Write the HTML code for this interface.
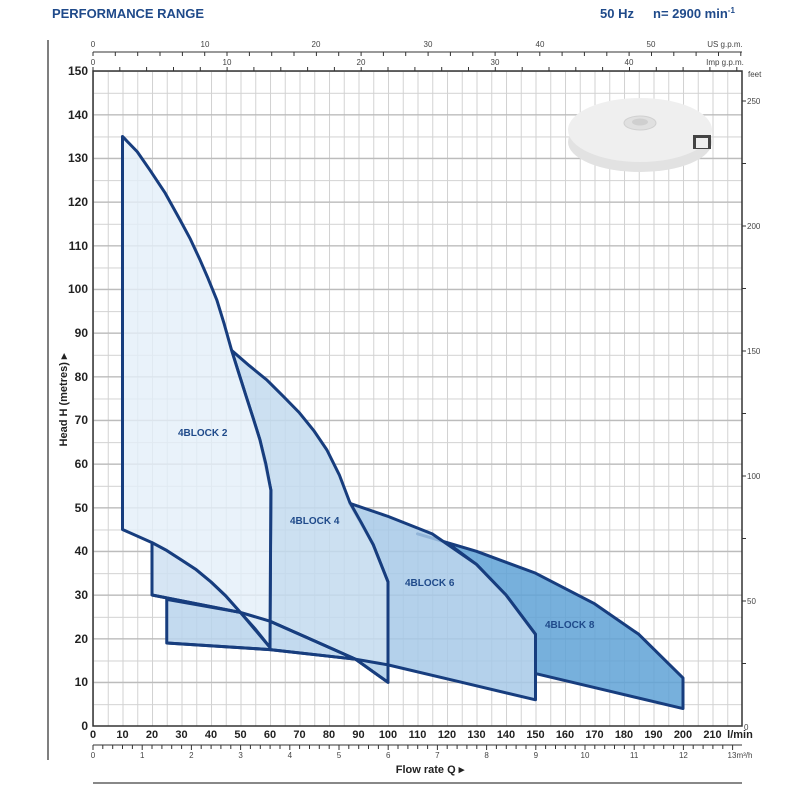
<!DOCTYPE html>
<html><head><style>
html,body{margin:0;padding:0;background:#fff;}
svg{display:block;font-family:"Liberation Sans",sans-serif;}
</style></head><body>
<svg width="800" height="800" viewBox="0 0 800 800" xmlns="http://www.w3.org/2000/svg">
<defs>
<pattern id="g" x="93" y="726" width="14.75" height="21.835" patternUnits="userSpaceOnUse">
<path d="M0.5 0V21.835M0 0.5H14.75" stroke="#d2d2d2" stroke-width="1" fill="none"/>
</pattern>
</defs>
<text x="52" y="18" font-size="13" font-weight="bold" fill="#1f4a8a" textLength="152">PERFORMANCE RANGE</text>
<text x="600" y="18" font-size="13" font-weight="bold" fill="#1f4a8a">50 Hz</text>
<text x="653" y="18" font-size="13" font-weight="bold" fill="#1f4a8a">n= 2900 min<tspan font-size="8" dy="-5">-1</tspan></text>
<line x1="48" y1="40" x2="48" y2="760" stroke="#555" stroke-width="1.5"/>
<rect x="93" y="71" width="649" height="655" fill="url(#g)"/>
<g stroke="#b4b4b4" stroke-width="1">
<line x1="93" y1="682.3" x2="742" y2="682.3"/><line x1="93" y1="638.7" x2="742" y2="638.7"/><line x1="93" y1="595" x2="742" y2="595"/><line x1="93" y1="551.3" x2="742" y2="551.3"/><line x1="93" y1="507.7" x2="742" y2="507.7"/><line x1="93" y1="464" x2="742" y2="464"/><line x1="93" y1="420.3" x2="742" y2="420.3"/><line x1="93" y1="376.7" x2="742" y2="376.7"/><line x1="93" y1="333" x2="742" y2="333"/><line x1="93" y1="289.3" x2="742" y2="289.3"/><line x1="93" y1="245.7" x2="742" y2="245.7"/><line x1="93" y1="202" x2="742" y2="202"/><line x1="93" y1="158.3" x2="742" y2="158.3"/><line x1="93" y1="114.7" x2="742" y2="114.7"/>
</g>
<rect x="93" y="71" width="649" height="655" fill="none" stroke="#333" stroke-width="1.5"/>
<!-- impeller -->
<g>
<ellipse cx="640" cy="142" rx="72" ry="30" fill="#e2e2e2"/>
<ellipse cx="640" cy="130" rx="72" ry="32" fill="#efefef"/>
<ellipse cx="640" cy="123" rx="16" ry="7" fill="#e0e0e0" stroke="#d0d0d0"/>
<ellipse cx="640" cy="122" rx="8" ry="3.5" fill="#cfcfcf"/>
<rect x="693" y="135" width="18" height="14" fill="#444"/>
<rect x="696" y="138" width="12" height="10" fill="#eee"/>
</g>
<!-- regions -->
<g transform="translate(93,726) scale(2.95,-4.367)" stroke="#173d7e" stroke-width="3" stroke-linejoin="round" fill-opacity="0.85">
<polygon vector-effect="non-scaling-stroke" fill="#5fa2d6" points="110,44 130,40 150,35 170,28 185,21 200,11 200,4 175,8 150,12 150,21 140,30 130,37 120,42"/>
<polygon vector-effect="non-scaling-stroke" fill="#a7c9e7" points="87,51 100,48 115,44 130,37 140,30 150,21 150,6 125,10 100,14 100,33 95,41.5"/>
<polygon vector-effect="non-scaling-stroke" fill="#c3daef" points="47,86 53,82.5 59,79.2 64.5,75.5 70,71.7 75,67.5 79.3,63.2 83.5,57.5 87,51.3 91,46.5 95,41.5 100,33 100,10 89,15.3 60,24 60.3,54 56.6,65.5 52,75.3"/>
<polygon vector-effect="non-scaling-stroke" fill="#b9d4ec" points="25,29 25,19 60,17.5 89,15.3 100,14 100,10 89,15.3 60,24 50,26 25,29"/>
<polygon vector-effect="non-scaling-stroke" fill="#cfe1f2" points="20,42 20,30 50,26 60,18 55,22.2 50,26 45,29.8 40,33 35,35.8 30,38 25,40.2"/>
<polygon vector-effect="non-scaling-stroke" fill="#e4eff9" fill-opacity="0.8" points="10,45 10,135 15,131.5 19.3,127.3 24.5,122 29.5,115.9 33,111.5 36.3,106.7 39,102.5 42,97.5 44.5,92 47,86 49.5,80.6 52,75.3 54.3,70.5 56.6,65.5 58.6,60 60.3,54 60,18 55,22.2 50,26 45,29.8 40,33 35,35.8 30,38 25,40.2 20,42"/>
<polyline vector-effect="non-scaling-stroke" fill="none" points="20,30 50,26 60,24 89,15.3 100,10"/>
<polyline vector-effect="non-scaling-stroke" fill="none" points="25,19 60,17.5 89,15.3"/>
</g>
<g font-size="10" font-weight="bold" fill="#1f4a8a">
<text x="178" y="436">4BLOCK 2</text><text x="290" y="524">4BLOCK 4</text><text x="405" y="586">4BLOCK 6</text><text x="545" y="628">4BLOCK 8</text>
</g>
<!-- left y labels -->
<g font-size="12" font-weight="bold" fill="#222" text-anchor="end">
<text x="88" y="730">0</text><text x="88" y="686">10</text><text x="88" y="643">20</text><text x="88" y="599">30</text><text x="88" y="555">40</text><text x="88" y="512">50</text><text x="88" y="468">60</text><text x="88" y="424">70</text><text x="88" y="381">80</text><text x="88" y="337">90</text><text x="88" y="293">100</text><text x="88" y="250">110</text><text x="88" y="206">120</text><text x="88" y="162">130</text><text x="88" y="119">140</text><text x="88" y="75">150</text>
</g>
<text transform="translate(67,400) rotate(-90)" font-size="11" font-weight="bold" fill="#222" text-anchor="middle">Head H  (metres) ▸</text>
<!-- right feet -->
<g stroke="#333" stroke-width="1">
<line x1="742" y1="101" x2="746" y2="101"/><line x1="742" y1="163.5" x2="746" y2="163.5"/><line x1="742" y1="226" x2="746" y2="226"/><line x1="742" y1="288.5" x2="746" y2="288.5"/><line x1="742" y1="351" x2="746" y2="351"/><line x1="742" y1="413.5" x2="746" y2="413.5"/><line x1="742" y1="476" x2="746" y2="476"/><line x1="742" y1="538.5" x2="746" y2="538.5"/><line x1="742" y1="601" x2="746" y2="601"/><line x1="742" y1="663.5" x2="746" y2="663.5"/>
</g>
<g font-size="8" fill="#444">
<text x="747" y="104">250</text><text x="747" y="229">200</text><text x="747" y="354">150</text><text x="747" y="479">100</text><text x="747" y="604">50</text><text x="744" y="730">0</text><text x="748" y="77">feet</text>
</g>
<!-- top axes -->
<line x1="93" y1="52" x2="742" y2="52" stroke="#333" stroke-width="1"/>
<g stroke="#333" stroke-width="1">
<path d="M93 52v4M115.3 52v4M137.7 52v4M160 52v4M182.4 52v4M204.7 52v4M227 52v4M249.4 52v4M271.7 52v4M294 52v4M316.4 52v4M338.7 52v4M361.1 52v4M383.4 52v4M405.7 52v4M428.1 52v4M450.4 52v4M472.8 52v4M495.1 52v4M517.4 52v4M539.8 52v4M562.1 52v4M584.4 52v4M606.8 52v4M629.1 52v4M651.5 52v4M673.8 52v4M696.1 52v4M718.5 52v4M740.8 52v4"/>
<path d="M93 71v-4M119.8 71v-4M146.6 71v-4M173.5 71v-4M200.3 71v-4M227.1 71v-4M253.9 71v-4M280.8 71v-4M307.6 71v-4M334.4 71v-4M361.2 71v-4M388 71v-4M414.9 71v-4M441.7 71v-4M468.5 71v-4M495.3 71v-4M522.2 71v-4M549 71v-4M575.8 71v-4M602.6 71v-4M629.5 71v-4M656.3 71v-4M683.1 71v-4M709.9 71v-4M736.8 71v-4"/>
</g>
<g font-size="8" fill="#444" text-anchor="middle">
<text x="93" y="47">0</text><text x="205" y="47">10</text><text x="316" y="47">20</text><text x="428" y="47">30</text><text x="540" y="47">40</text><text x="651" y="47">50</text><text x="725" y="47">US g.p.m.</text>
<text x="93" y="65">0</text><text x="227" y="65">10</text><text x="361" y="65">20</text><text x="495" y="65">30</text><text x="629" y="65">40</text><text x="725" y="65">Imp g.p.m.</text>
</g>
<!-- bottom axis labels -->
<g font-size="11" font-weight="bold" fill="#222" text-anchor="middle">
<text x="93" y="738">0</text><text x="122.5" y="738">10</text><text x="152" y="738">20</text><text x="181.5" y="738">30</text><text x="211" y="738">40</text><text x="240.5" y="738">50</text><text x="270" y="738">60</text><text x="299.5" y="738">70</text><text x="329" y="738">80</text><text x="358.5" y="738">90</text><text x="388" y="738">100</text><text x="417.5" y="738">110</text><text x="447" y="738">120</text><text x="476.5" y="738">130</text><text x="506" y="738">140</text><text x="535.5" y="738">150</text><text x="565" y="738">160</text><text x="594.5" y="738">170</text><text x="624" y="738">180</text><text x="653.5" y="738">190</text><text x="683" y="738">200</text><text x="712.5" y="738">210</text><text x="740" y="738">l/min</text>
</g>
<line x1="93" y1="745" x2="742" y2="745" stroke="#333" stroke-width="1"/>
<g stroke="#333" stroke-width="1">
<path d="M93 745v5M102.8 745v4M112.7 745v4M122.5 745v4M132.4 745v4M142.2 745v5M152 745v4M161.9 745v4M171.7 745v4M181.6 745v4M191.4 745v5M201.2 745v4M211.1 745v4M220.9 745v4M230.8 745v4M240.6 745v5M250.4 745v4M260.3 745v4M270.1 745v4M280 745v4M289.8 745v5M299.6 745v4M309.5 745v4M319.3 745v4M329.2 745v4M339 745v5M348.8 745v4M358.7 745v4M368.5 745v4M378.4 745v4M388.2 745v5M398 745v4M407.9 745v4M417.7 745v4M427.6 745v4M437.4 745v5M447.2 745v4M457.1 745v4M466.9 745v4M476.8 745v4M486.6 745v5M496.4 745v4M506.3 745v4M516.1 745v4M526 745v4M535.8 745v5M545.6 745v4M555.5 745v4M565.3 745v4M575.2 745v4M585 745v5M594.8 745v4M604.7 745v4M614.5 745v4M624.4 745v4M634.2 745v5M644 745v4M653.9 745v4M663.7 745v4M673.6 745v4M683.4 745v5M693.2 745v4M703.1 745v4M712.9 745v4M722.8 745v4M732.6 745v5"/>
</g>
<g font-size="8" fill="#444" text-anchor="middle">
<text x="93" y="758">0</text><text x="142.2" y="758">1</text><text x="191.4" y="758">2</text><text x="240.6" y="758">3</text><text x="289.8" y="758">4</text><text x="339" y="758">5</text><text x="388.2" y="758">6</text><text x="437.4" y="758">7</text><text x="486.6" y="758">8</text><text x="535.8" y="758">9</text><text x="585" y="758">10</text><text x="634.2" y="758">11</text><text x="683.4" y="758">12</text><text x="740" y="758">13m³/h</text>
</g>
<text x="430" y="773" font-size="11" font-weight="bold" fill="#222" text-anchor="middle">Flow rate  Q  ▸</text>
<line x1="93" y1="783" x2="742" y2="783" stroke="#888" stroke-width="2"/>
</svg>
</body></html>
